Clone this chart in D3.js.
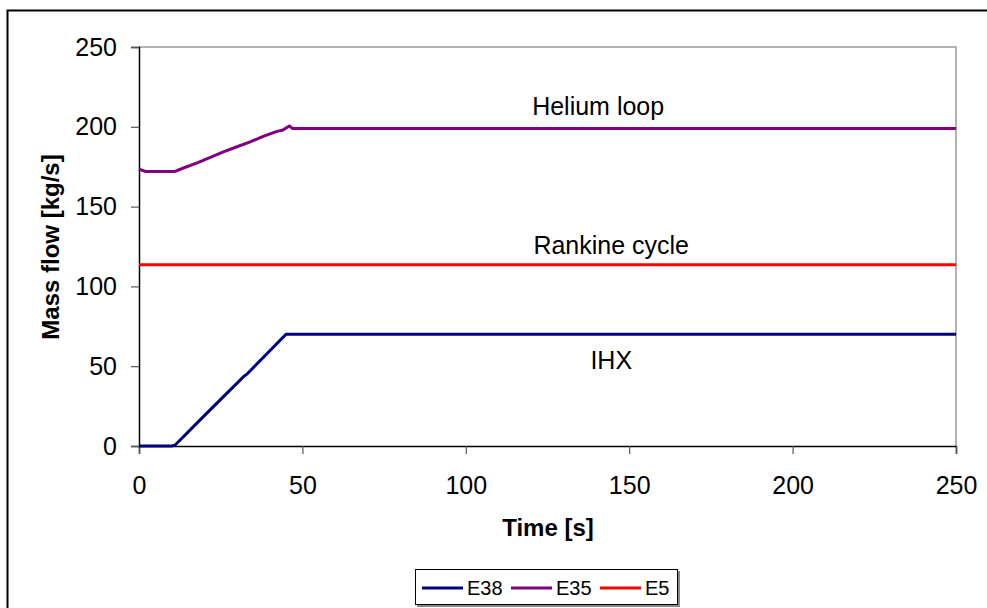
<!DOCTYPE html>
<html>
<head>
<meta charset="utf-8">
<script src="https://cdn.jsdelivr.net/npm/d3@7"></script>
<style>
  body { margin: 0; background: #fff; }
  svg { display: block; font-family: Arial, "Liberation Sans", sans-serif; }
</style>
</head>
<body>
<svg width="987" height="608"></svg>
<script>
// data
var e38Time = [0, 10, 11, 20, 32, 33, 45, 46, 250];
var e38Flow = [0, 0, 0.5, 19, 43.5, 45, 70, 70, 70];

var e35Time = [0, 2, 11, 14, 18, 22, 26, 30, 34, 38, 42, 44, 46, 47, 250];
var e35Flow = [173.5, 172, 172, 174.5, 177.5, 181, 184.5, 187.5, 190.5, 194, 197, 198, 200.5, 199, 199];

var e5Time = [0, 250];
var e5Flow = [113.5, 113.5];

var xTicks = [0, 50, 100, 150, 200, 250];
var yTicks = [0, 50, 100, 150, 200, 250];

var seriesNames = ["E38", "E35", "E5"];
var seriesColors = ["#000080", "#800080", "#ff0000"];

var svg = d3.select("svg");

// outer chart frame
svg.append("rect")
    .attr("x", 7.5).attr("y", 10.5)
    .attr("width", 990).attr("height", 610)
    .attr("fill", "none").attr("stroke", "#000").attr("stroke-width", 2);

var x = d3.scaleLinear().domain([0, 250]).range([139, 956]);
var y = d3.scaleLinear().domain([0, 250]).range([446, 47]);

// plot area border (top/right grey)
svg.append("path")
    .attr("d", "M" + x(0) + "," + y(250) + "H" + x(250) + "V" + y(0))
    .attr("fill", "none").attr("stroke", "#999").attr("stroke-width", 1.5);

var xAxis = svg.append("g")
    .attr("transform", "translate(0," + y(0) + ")")
    .call(d3.axisBottom(x).tickValues(xTicks).tickSize(8));
var yAxis = svg.append("g")
    .attr("transform", "translate(" + x(0) + ",0)")
    .call(d3.axisLeft(y).tickValues(yTicks).tickSize(8).tickPadding(14));

[xAxis, yAxis].forEach(function(g) {
    g.select(".domain").attr("stroke", "#000").attr("stroke-width", 1.5);
    g.selectAll(".tick line").attr("stroke", "#555").attr("stroke-width", 1.2);
    g.selectAll(".tick text")
        .attr("font-size", 25)
        .attr("fill", "#000")
        .attr("font-family", "Arial, 'Liberation Sans', sans-serif");
});
xAxis.selectAll(".tick text").attr("y", 48).attr("dy", 0);

// axis titles
svg.append("text")
    .attr("x", 548).attr("y", 536)
    .attr("text-anchor", "middle")
    .attr("font-size", 24).attr("font-weight", "bold")
    .text("Time [s]");
svg.append("text")
    .attr("transform", "translate(59,247) rotate(-90)")
    .attr("text-anchor", "middle")
    .attr("font-size", 24).attr("font-weight", "bold")
    .text("Mass flow [kg/s]");

var line = d3.line()
    .x(function(d) { return x(d[0]); })
    .y(function(d) { return y(d[1]); });

var series = [
    d3.zip(e38Time, e38Flow),
    d3.zip(e35Time, e35Flow),
    d3.zip(e5Time, e5Flow)
];

series.forEach(function(s, i) {
    svg.append("path")
        .datum(s)
        .attr("d", line)
        .attr("fill", "none")
        .attr("stroke", seriesColors[i])
        .attr("stroke-width", 3);
});

// curve labels
var labels = [
    { text: "Helium loop", t: 140.5, v: 207.5 },
    { text: "Rankine cycle", t: 144.5, v: 120.5 },
    { text: "IHX", t: 144.5, v: 48 }
];
svg.selectAll(".curve-label")
    .data(labels)
    .enter().append("text")
    .attr("class", "curve-label")
    .attr("x", function(d) { return x(d.t); })
    .attr("y", function(d) { return y(d.v); })
    .attr("text-anchor", "middle")
    .attr("font-size", 25)
    .text(function(d) { return d.text; });

// legend
var legend = svg.append("g").attr("transform", "translate(415,569)");
legend.append("rect")
    .attr("x", 2).attr("y", 2).attr("width", 263).attr("height", 36)
    .attr("fill", "#888");
legend.append("rect")
    .attr("x", 0.5).attr("y", 0.5).attr("width", 262).attr("height", 35)
    .attr("fill", "#fff").attr("stroke", "#000").attr("stroke-width", 1);

var item = legend.selectAll(".item")
    .data(seriesNames)
    .enter().append("g")
    .attr("class", "item")
    .attr("transform", function(d, i) { return "translate(" + (7 + i * 89) + ",19)"; });
item.append("line")
    .attr("x1", 0).attr("x2", 41)
    .attr("stroke", function(d, i) { return seriesColors[i]; })
    .attr("stroke-width", 3);
item.append("text")
    .attr("x", 45).attr("dy", "0.35em")
    .attr("font-size", 20)
    .text(function(d) { return d; });
</script>
</body>
</html>
